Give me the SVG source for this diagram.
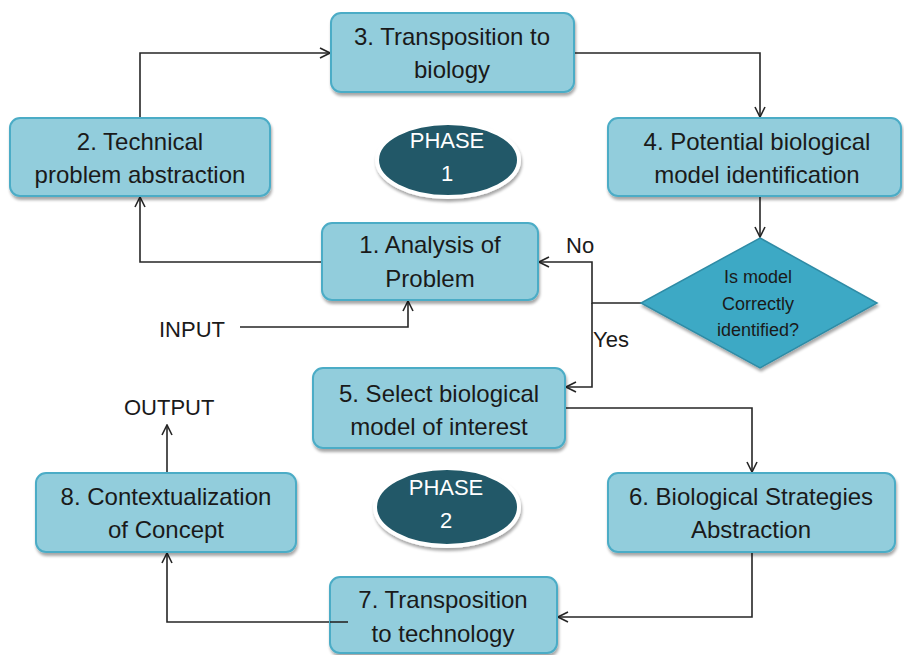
<svg xmlns="http://www.w3.org/2000/svg" width="904" height="655" viewBox="0 0 904 655">
<defs>
<marker id="arr" viewBox="0 0 12 12" refX="11" refY="6" markerWidth="12" markerHeight="12" markerUnits="userSpaceOnUse" orient="auto">
<path d="M1,1 L11,6 L1,11" fill="none" stroke="#262626" stroke-width="1.6"/>
</marker>
<filter id="sh" x="-10%" y="-10%" width="120%" height="130%">
<feGaussianBlur in="SourceAlpha" stdDeviation="1.5"/>
<feOffset dx="1" dy="2.5"/>
<feComponentTransfer><feFuncA type="linear" slope="0.35"/></feComponentTransfer>
<feMerge><feMergeNode/><feMergeNode in="SourceGraphic"/></feMerge>
</filter>
</defs>
<style>
.box{fill:#92CDDC;stroke:#4BACC6;stroke-width:2;filter:url(#sh)}
.t{font-family:"Liberation Sans",Arial,sans-serif;font-size:24px;fill:#1a1a1a;text-anchor:middle}
.lbl{font-family:"Liberation Sans",Arial,sans-serif;font-size:22px;fill:#1a1a1a}
.dt{font-family:"Liberation Sans",Arial,sans-serif;font-size:18px;fill:#1a1a1a;text-anchor:middle}
.pt{font-family:"Liberation Sans",Arial,sans-serif;font-size:22px;fill:#ffffff;text-anchor:middle}
.ph{fill:#215968;stroke:#ffffff;stroke-width:4;filter:url(#sh)}
.c{fill:none;stroke:#262626;stroke-width:1.6}
</style>
<rect width="904" height="655" fill="#ffffff"/>
<g id="connectors">
<polyline class="c" points="140,118 140,53 330,53" marker-end="url(#arr)"/>
<polyline class="c" points="574,53 760,53 760,117" marker-end="url(#arr)"/>
<polyline class="c" points="760,196 760,237" marker-end="url(#arr)"/>
<polyline class="c" points="641,303 592,303 592,262 539,262" marker-end="url(#arr)"/>
<polyline class="c" points="592,303 592,387 566,387" marker-end="url(#arr)"/>
<polyline class="c" points="322,262 140,262 140,197" marker-end="url(#arr)"/>
<polyline class="c" points="240,327 408,327 408,301" marker-end="url(#arr)"/>
<polyline class="c" points="565,408 752,408 752,472" marker-end="url(#arr)"/>
<polyline class="c" points="752,552 752,617 558,617" marker-end="url(#arr)"/>
<polyline class="c" points="348,622 167,622 167,553" marker-end="url(#arr)"/>
<polyline class="c" points="167,473 167,425" marker-end="url(#arr)"/>
</g>
<g id="n3"><rect class="box" x="331" y="13" width="243" height="79" rx="10"/><text class="t" x="452" y="45">3. Transposition to</text><text class="t" x="452" y="78">biology</text></g>
<g id="n2"><rect class="box" x="10" y="118" width="260" height="78" rx="10"/><text class="t" x="140" y="150">2. Technical</text><text class="t" x="140" y="183">problem abstraction</text></g>
<g id="n4"><rect class="box" x="608" y="118" width="293" height="78" rx="10"/><text class="t" x="757" y="150">4. Potential biological</text><text class="t" x="757" y="183">model identification</text></g>
<g id="phase1"><ellipse class="ph" cx="448" cy="160" rx="71" ry="37"/><text class="pt" x="447" y="148">PHASE</text><text class="pt" x="447" y="181">1</text></g>
<g id="n1"><rect class="box" x="322" y="223" width="216" height="77" rx="10"/><text class="t" x="430" y="253">1. Analysis of</text><text class="t" x="430" y="287">Problem</text></g>
<g id="decision"><polygon points="760,238 877,303 760,368 641,303" fill="#3EA9C5" stroke="#2F8CA6" stroke-width="1.5" filter="url(#sh)"/><text class="dt" x="758" y="283">Is model</text><text class="dt" x="758" y="310">Correctly</text><text class="dt" x="758" y="336">identified?</text></g>
<g id="labels"><text class="lbl" x="566" y="253">No</text><text class="lbl" x="593" y="347">Yes</text><text class="lbl" x="159" y="337">INPUT</text><text class="lbl" x="124" y="415">OUTPUT</text></g>
<g id="n5"><rect class="box" x="313" y="368" width="252" height="80" rx="10"/><text class="t" x="439" y="402">5. Select biological</text><text class="t" x="439" y="435">model of interest</text></g>
<g id="phase2"><ellipse class="ph" cx="447" cy="507" rx="72" ry="39"/><text class="pt" x="446" y="495">PHASE</text><text class="pt" x="446" y="528">2</text></g>
<g id="n6"><rect class="box" x="608" y="473" width="287" height="79" rx="10"/><text class="t" x="751" y="505">6. Biological Strategies</text><text class="t" x="751" y="538">Abstraction</text></g>
<g id="n8"><rect class="box" x="36" y="473" width="260" height="79" rx="10"/><text class="t" x="166" y="505">8. Contextualization</text><text class="t" x="166" y="538">of Concept</text></g>
<g id="n7"><rect class="box" x="330" y="577" width="227" height="76" rx="10"/><text class="t" x="443" y="608">7. Transposition</text><text class="t" x="443" y="642">to technology</text></g>
<polyline class="c" points="330,622 348,622"/>
</svg>
